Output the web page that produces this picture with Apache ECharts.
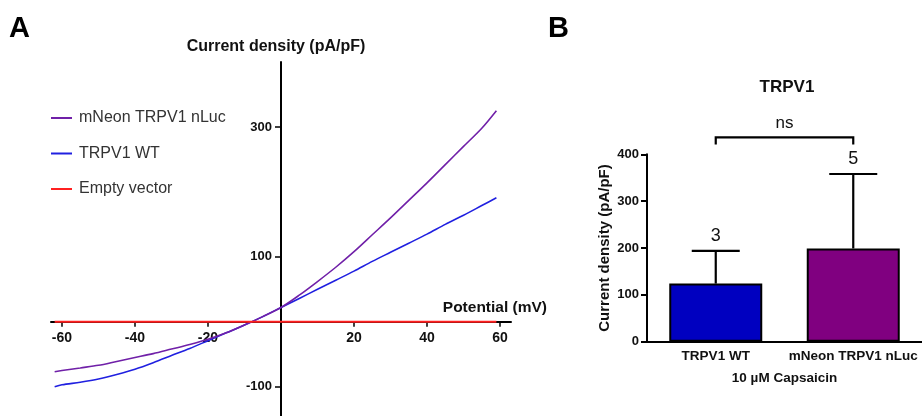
<!DOCTYPE html>
<html>
<head>
<meta charset="utf-8">
<script src="https://cdn.jsdelivr.net/npm/echarts@6/dist/echarts.min.js"></script>
<style>
  html, body { margin: 0; padding: 0; background: #fff; }
  #myChart { width: 922px; height: 416px; }
</style>
</head>
<body>
<div id="myChart"></div>
<script>
// panel A: I-V curves (mV, pA/pF)
var potential = [-62, -60, -55, -50, -45, -40, -35, -30, -25, -20, -15, -10, -5, 0, 5, 10, 15, 20, 25, 30, 35, 40, 45, 50, 55, 59];
var mNeonCurve = [-77, -75, -71, -67, -61, -55, -49, -42, -35, -27, -17, -5, 8, 22, 41, 62, 84, 108, 134, 160, 187, 214, 242, 270, 298, 325];
var wtCurve = [-100, -97, -93, -88, -81, -73, -63, -52, -41, -29, -17, -5, 8, 22, 36, 50, 64, 78, 93, 107, 121, 135, 150, 164, 179, 191];
var emptyX = [-62, 59];
var emptyY = [0, 0];
var xTicksA = [-60, -40, -20, 20, 40, 60];
var yTicksA = [-100, 100, 300];

// panel B: bars
var groups = ['TRPV1 WT', 'mNeon TRPV1 nLuc'];
var meanDensity = [124, 199];
var upperErr = [194, 358];
var nCells = [3, 5];
var bracketLevel = 436;

var FONT = "'Liberation Sans', Arial, sans-serif";
var barColors = ['#0000c0', '#800080'];

function pairs(xs, ys) {
  var out = [];
  for (var i = 0; i < xs.length; i++) out.push([xs[i], ys[i]]);
  return out;
}

var errData = groups.map(function (g, i) { return [i, meanDensity[i], upperErr[i], nCells[i]]; });

// 轴交叉在原点：用offset把轴挪到0的位置
var gridA = { left: 51, top: 62, width: 460, height: 354 };
var xMinA = -63, xMaxA = 63, yMinA = -145, yMaxA = 400;
var zeroY = gridA.top + gridA.height * yMaxA / (yMaxA - yMinA);
var zeroX = gridA.left + gridA.width * (0 - xMinA) / (xMaxA - xMinA);

var myChart = echarts.init(document.getElementById('myChart'));
myChart.setOption({
  animation: false,
  backgroundColor: '#fff',
  textStyle: { fontFamily: FONT },
  title: [
    { text: 'A', left: 9, top: 14, padding: 0, textStyle: { fontSize: 29, fontWeight: 'bold', color: '#000', fontFamily: FONT } },
    { text: 'B', left: 548, top: 14, padding: 0, textStyle: { fontSize: 29, fontWeight: 'bold', color: '#000', fontFamily: FONT } },
    { text: 'TRPV1', left: 787, top: 79, padding: 0, textAlign: 'center', textStyle: { fontSize: 17, fontWeight: 'bold', color: '#111', fontFamily: FONT } }
  ],
  legend: {
    orient: 'vertical',
    left: 46,
    top: 105,
    itemWidth: 21,
    itemHeight: 2,
    itemGap: 19.5,
    icon: 'rect',
    textStyle: { fontSize: 16, color: '#333', lineHeight: 16, padding: [0, 0, 0, 2], fontFamily: FONT },
    data: ['mNeon TRPV1 nLuc', 'TRPV1 WT', 'Empty vector']
  },
  grid: [
    gridA,
    { left: 647, top: 154.3, width: 281, height: 187.4 }
  ],
  xAxis: [
    {
      gridIndex: 0,
      type: 'value',
      min: xMinA,
      max: xMaxA,
      position: 'bottom',
      offset: -(gridA.top + gridA.height - zeroY),
      name: 'Potential (mV)',
      nameLocation: 'end',
      nameGap: 0,
      nameTextStyle: { fontSize: 15.5, fontWeight: 'bold', color: '#111', align: 'right', verticalAlign: 'bottom', padding: [0, -36, 6, 0], fontFamily: FONT },
      axisLine: { onZero: false, lineStyle: { color: '#000', width: 2 } },
      axisTick: { show: true, length: 5, customValues: xTicksA, lineStyle: { color: '#000', width: 1.5 } },
      axisLabel: { customValues: xTicksA, margin: 9, fontSize: 14, fontWeight: 'bold', color: '#111', fontFamily: FONT },
      splitLine: { show: false }
    },
    {
      gridIndex: 1,
      type: 'category',
      data: groups,
      name: '10 µM Capsaicin',
      nameLocation: 'middle',
      nameGap: 30,
      nameTextStyle: { fontSize: 13.5, fontWeight: 'bold', color: '#111', fontFamily: FONT },
      axisLine: { lineStyle: { color: '#000', width: 2 } },
      axisTick: { alignWithLabel: true, length: 5, lineStyle: { color: '#000', width: 2 } },
      axisLabel: { margin: 8, fontSize: 13.5, fontWeight: 'bold', color: '#111', fontFamily: FONT, interval: 0 }
    }
  ],
  yAxis: [
    {
      gridIndex: 0,
      type: 'value',
      min: yMinA,
      max: yMaxA,
      position: 'left',
      offset: -(zeroX - gridA.left),
      name: 'Current density (pA/pF)',
      nameLocation: 'end',
      nameGap: 7,
      nameTextStyle: { fontSize: 16, fontWeight: 'bold', color: '#111', padding: [0, 10, 0, 0], fontFamily: FONT },
      axisLine: { onZero: false, lineStyle: { color: '#000', width: 2 } },
      axisTick: { show: true, length: 6, customValues: yTicksA, lineStyle: { color: '#000', width: 1.5 } },
      axisLabel: { customValues: yTicksA, margin: 9, fontSize: 13, fontWeight: 'bold', color: '#111', fontFamily: FONT },
      splitLine: { show: false }
    },
    {
      gridIndex: 1,
      type: 'value',
      min: 0,
      max: 400,
      interval: 100,
      name: 'Current density (pA/pF)',
      nameLocation: 'middle',
      nameGap: 35,
      nameTextStyle: { fontSize: 15, fontWeight: 'bold', color: '#111', fontFamily: FONT },
      axisLine: { show: true, lineStyle: { color: '#000', width: 2 } },
      axisTick: { show: true, length: 6, lineStyle: { color: '#000', width: 2 } },
      axisLabel: { margin: 8, fontSize: 13, fontWeight: 'bold', color: '#111', fontFamily: FONT },
      splitLine: { show: false }
    }
  ],
  series: [
    {
      name: 'mNeon TRPV1 nLuc',
      type: 'line',
      xAxisIndex: 0, yAxisIndex: 0,
      data: pairs(potential, mNeonCurve),
      smooth: 0.3,
      showSymbol: false,
      color: '#7020a8',
      lineStyle: { width: 1.6, color: '#7020a8' },
      z: 3
    },
    {
      name: 'TRPV1 WT',
      type: 'line',
      xAxisIndex: 0, yAxisIndex: 0,
      data: pairs(potential, wtCurve),
      smooth: 0.3,
      showSymbol: false,
      color: '#2020e0',
      lineStyle: { width: 1.6, color: '#2020e0' },
      z: 2
    },
    {
      name: 'Empty vector',
      type: 'line',
      xAxisIndex: 0, yAxisIndex: 0,
      data: pairs(emptyX, emptyY),
      showSymbol: false,
      color: '#ff2020',
      lineStyle: { width: 2, color: '#ff2020' },
      z: 4
    },
    {
      name: 'bars',
      type: 'bar',
      xAxisIndex: 1, yAxisIndex: 1,
      barWidth: 93,
      data: meanDensity.map(function (v, i) {
        return { value: v, itemStyle: { color: barColors[i], borderColor: '#000', borderWidth: 2 } };
      }),
      z: 2
    },
    {
      name: 'err',
      type: 'custom',
      xAxisIndex: 1, yAxisIndex: 1,
      clip: false,
      z: 3,
      data: errData,
      encode: { x: 0, y: 1 },
      renderItem: function (params, api) {
        var c = api.value(0);
        var base = api.coord([c, api.value(1)]);
        var top = api.coord([c, api.value(2)]);
        var half = 24;
        return {
          type: 'group',
          children: [
            { type: 'line', shape: { x1: base[0], y1: base[1], x2: top[0], y2: top[1] }, style: { stroke: '#000', lineWidth: 2.2 } },
            { type: 'line', shape: { x1: top[0] - half, y1: top[1], x2: top[0] + half, y2: top[1] }, style: { stroke: '#000', lineWidth: 2.2 } },
            { type: 'text', x: top[0], y: top[1] - 15, style: { text: String(api.value(3)), fill: '#111', font: '18px ' + FONT, align: 'center', verticalAlign: 'middle' } }
          ]
        };
      }
    },
    {
      name: 'bracket',
      type: 'custom',
      xAxisIndex: 1, yAxisIndex: 1,
      clip: false,
      z: 3,
      data: [[0, bracketLevel, 1]],
      encode: { x: 0, y: 1 },
      renderItem: function (params, api) {
        var a = api.coord([api.value(0), api.value(1)]);
        var b = api.coord([api.value(2), api.value(1)]);
        var drop = 7;
        return {
          type: 'group',
          children: [
            { type: 'polyline', shape: { points: [[a[0], a[1] + drop], [a[0], a[1]], [b[0], b[1]], [b[0], b[1] + drop]] }, style: { stroke: '#000', lineWidth: 2.2, fill: null } },
            { type: 'text', x: (a[0] + b[0]) / 2, y: a[1] - 14, style: { text: 'ns', fill: '#111', font: '17px ' + FONT, align: 'center', verticalAlign: 'middle' } }
          ]
        };
      }
    }
  ]
});
</script>
</body>
</html>
